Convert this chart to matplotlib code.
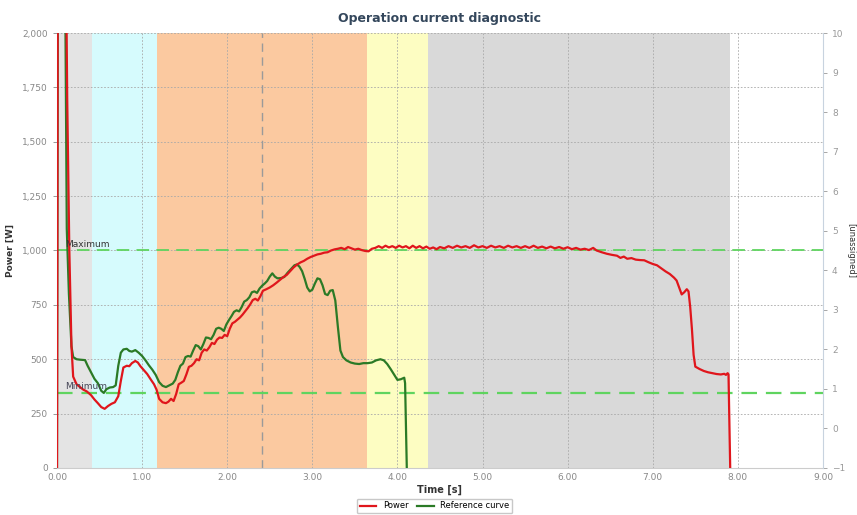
import matplotlib.pyplot as plt
from matplotlib.ticker import FuncFormatter

# power curve [s, W]
power_t = [0.00, 0.01, 0.10, 0.12, 0.145, 0.17, 0.19, 0.23, 0.27, 0.31, 0.35, 0.40, 0.44, 0.48,
           0.52, 0.56, 0.60, 0.64, 0.68, 0.72, 0.75, 0.78, 0.82, 0.85, 0.88, 0.92, 0.95, 0.98,
           1.02, 1.06, 1.10, 1.14, 1.17, 1.20, 1.24, 1.28, 1.31, 1.34, 1.37, 1.40, 1.43, 1.46,
           1.49, 1.52, 1.55, 1.58, 1.61, 1.64, 1.67, 1.70, 1.73, 1.76, 1.79, 1.82, 1.85, 1.88,
           1.91, 1.94, 1.97, 2.00, 2.03, 2.06, 2.09, 2.12, 2.15, 2.18, 2.21, 2.24, 2.27, 2.30,
           2.33, 2.36, 2.39, 2.42, 2.46, 2.50, 2.54, 2.58, 2.62, 2.66, 2.70, 2.74, 2.78, 2.82,
           2.86, 2.90, 2.94, 2.98, 3.02, 3.06, 3.10, 3.14, 3.18, 3.22, 3.26, 3.30, 3.34, 3.38,
           3.42, 3.46, 3.50, 3.54, 3.58, 3.62, 3.66, 3.70, 3.74, 3.78, 3.82, 3.86, 3.90, 3.94,
           3.98, 4.02, 4.06, 4.10, 4.14, 4.18, 4.22, 4.26, 4.30, 4.34, 4.38, 4.42, 4.46, 4.50,
           4.55, 4.60, 4.65, 4.70, 4.75, 4.80, 4.85, 4.90, 4.95, 5.00, 5.05, 5.10, 5.15, 5.20,
           5.25, 5.30, 5.35, 5.40, 5.45, 5.50, 5.55, 5.60, 5.65, 5.70, 5.75, 5.80, 5.85, 5.90,
           5.95, 6.00, 6.05, 6.10, 6.15, 6.20, 6.25, 6.30, 6.34, 6.40, 6.46, 6.52, 6.58, 6.62,
           6.66, 6.70, 6.75, 6.80, 6.85, 6.90, 6.95, 7.00, 7.05, 7.10, 7.15, 7.20, 7.25, 7.28,
           7.31, 7.34, 7.37, 7.40, 7.42, 7.44, 7.46, 7.48, 7.50, 7.55, 7.60, 7.65, 7.70, 7.75,
           7.80, 7.84, 7.86, 7.88, 7.89, 7.91]
power_w = [0, 2600, 2600, 1700, 1000, 560, 420, 385, 372, 360, 352, 335, 315, 298,
           280, 272, 285, 295, 302, 330, 400, 462, 470, 468, 482, 492, 485, 468,
           450, 432, 408, 385, 360, 318, 302, 298, 305, 318, 308, 340, 385, 392,
           400, 430, 465, 470, 482, 500, 495, 530, 545, 540, 555, 575, 570, 590,
           600, 598, 612, 606, 640, 665, 672, 682, 692, 705, 720, 735, 752, 772,
           778, 770, 790, 815, 822, 830, 840, 852, 865, 878, 888, 905, 922, 935,
           945, 952, 962, 970, 976, 982, 985, 990, 992, 1000, 1005, 1008, 1012, 1006,
           1016, 1010, 1004, 1008, 1002, 998, 996, 1008, 1012, 1020, 1012, 1022, 1014, 1020,
           1012, 1022, 1014, 1020, 1010, 1022, 1012, 1020, 1010, 1018, 1008, 1014, 1006, 1016,
           1010, 1020, 1012, 1022, 1014, 1020, 1012, 1024, 1014, 1020, 1012, 1022, 1014, 1020,
           1012, 1022, 1014, 1020, 1012, 1020, 1012, 1022, 1012, 1018, 1010, 1018, 1010, 1016,
           1008, 1015, 1006, 1012, 1004, 1008, 1002, 1012, 1000, 992, 985, 980, 976, 966,
           972, 962, 965, 958, 956, 955, 946, 938, 932, 918, 904, 892, 875, 862,
           830, 798, 808, 822, 812, 740, 640, 520, 466, 455, 446, 440, 436, 432,
           430, 433, 428, 436, 430, 0]

# reference curve [s, W]
ref_t = [0.00, 0.012, 0.09, 0.115, 0.14, 0.17, 0.19, 0.23, 0.27, 0.33, 0.36, 0.40, 0.44, 0.48,
         0.52, 0.55, 0.58, 0.62, 0.66, 0.69, 0.72, 0.75, 0.78, 0.82, 0.85, 0.88, 0.92, 0.96,
         1.00, 1.04, 1.08, 1.12, 1.16, 1.20, 1.24, 1.28, 1.32, 1.36, 1.39, 1.42, 1.45, 1.48,
         1.51, 1.54, 1.57, 1.60, 1.63, 1.66, 1.69, 1.72, 1.75, 1.78, 1.81, 1.84, 1.87, 1.90,
         1.93, 1.96, 1.99, 2.02, 2.05, 2.08, 2.11, 2.14, 2.17, 2.20, 2.23, 2.26, 2.29, 2.32,
         2.35, 2.38, 2.41, 2.44, 2.47, 2.50, 2.53, 2.56, 2.59, 2.63, 2.67, 2.71, 2.75, 2.79,
         2.82, 2.85, 2.88, 2.91, 2.94, 2.97, 3.00, 3.03, 3.06, 3.09, 3.12, 3.15, 3.18, 3.21,
         3.24, 3.27, 3.30, 3.33, 3.36, 3.40, 3.45, 3.50, 3.55, 3.60, 3.65, 3.70, 3.75, 3.80,
         3.84, 3.88, 3.92, 3.96, 4.00, 4.04, 4.08, 4.09, 4.11]
ref_w = [0, 2600, 2600, 1100, 800, 560, 510, 500, 498, 496, 470, 440, 410, 390,
         355, 345, 362, 370, 372, 380, 470, 530, 545, 548, 538, 535, 542, 530,
         515, 495, 472, 452, 428, 395, 378, 372, 380, 388, 405, 440, 470, 480,
         510, 515, 512, 540, 565, 560, 545, 570, 600, 598, 592, 612, 640, 645,
         640, 630, 660, 680, 698, 718, 725, 720, 740, 765, 772, 785, 808, 812,
         805, 825, 838, 848, 860, 880, 895, 880, 872, 873, 878, 898, 915, 932,
         936, 925, 905, 870, 830, 812, 820, 848, 872, 868, 840, 800, 795, 815,
         818, 770, 650, 540, 510, 495, 485, 480, 478, 482, 482, 485, 495, 500,
         495, 478, 455, 430, 405, 408, 415, 390, 0]

# phase bands (start, end, colour)
band_edges = [0.0, 0.41, 1.18, 3.64, 4.36, 7.91]
band_colors = ["#e4e4e4", "#d6fbfd", "#fbc9a0", "#fdfdc2", "#d9d9d9"]

limit_max = 1000
limit_min = 345
marker_t = 2.41

fig = plt.figure(figsize=(8.57, 5.15), dpi=100)
ax = fig.add_axes([0.0665, 0.0913, 0.8938, 0.8446])

for i, c in enumerate(band_colors):
    ax.axvspan(band_edges[i], band_edges[i + 1], color=c, lw=0, zorder=0)

ax.grid(True, color="#a8a8a8", linestyle=(0, (2, 2)), linewidth=0.6, zorder=1)
ax.set_axisbelow(True)

ax.axvline(marker_t, color="#9a9a9a", linestyle=(0, (6, 4)), linewidth=1.0, zorder=2)
ax.axhline(limit_max, color="#5fd45f", linestyle=(0, (7, 4)), linewidth=1.3, zorder=2)
ax.axhline(limit_min, color="#5fd45f", linestyle=(0, (7, 4)), linewidth=1.6, zorder=2)
ax.text(0.1, limit_max + 8, "Maximum", fontsize=6.5, color="#333333", va="bottom", zorder=6)
ax.text(0.1, limit_min + 8, "Minimum", fontsize=6.5, color="#444455", va="bottom", zorder=6)

ax.plot(ref_t, ref_w, color="#2b7a26", linewidth=1.6, label="Reference curve", zorder=3)
ax.plot(power_t, power_w, color="#e0161c", linewidth=1.6, label="Power", zorder=4)

ax.set_xlim(0, 9)
ax.set_ylim(0, 2000)
ax.set_xticks(range(10))
ax.set_yticks(range(0, 2001, 250))
ax.xaxis.set_major_formatter(FuncFormatter(lambda v, p: f"{v:.2f}"))
ax.yaxis.set_major_formatter(FuncFormatter(lambda v, p: f"{int(v):,}"))
ax.tick_params(labelsize=6.5, colors="#888888", length=3, width=0.6)
ax.tick_params(axis="x", length=0)
for s in ["top", "right"]:
    ax.spines[s].set_visible(False)
for s in ["left", "bottom"]:
    ax.spines[s].set_color("#cccccc")

ax.set_xlabel("Time [s]", fontsize=7, fontweight="bold", color="#333333", labelpad=2)
ax.set_ylabel("Power [W]", fontsize=6.5, fontweight="bold", color="#333333", labelpad=5)
ax.set_title("Operation current diagnostic", fontsize=9, fontweight="bold",
             color="#34475c", pad=8)

ax2 = ax.twinx()
ax2.set_ylim(-1, 10)
ax2.set_yticks(range(-1, 11))
ax2.tick_params(labelsize=6.5, colors="#999999", length=3, width=0.6)
for s in ["top", "left", "bottom"]:
    ax2.spines[s].set_visible(False)
ax2.spines["right"].set_color("#c8d3df")
ax2.set_ylabel("[unassigned]", fontsize=6, color="#333333", rotation=270, labelpad=7)

handles, labels = ax.get_legend_handles_labels()
fig.legend(handles[::-1], labels[::-1], loc="lower center", bbox_to_anchor=(0.507, -0.005),
           ncol=2, fontsize=6, frameon=True, fancybox=True, edgecolor="#bbbbbb",
           handlelength=2.0, columnspacing=1.0, borderpad=0.35)

plt.savefig("out.png", dpi=100)
